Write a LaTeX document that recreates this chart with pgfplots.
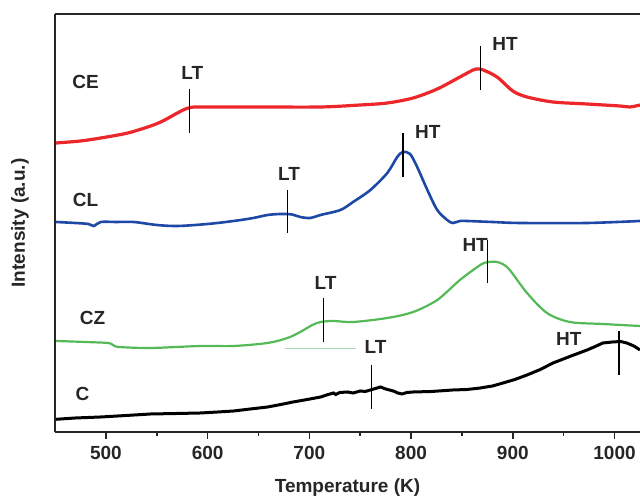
\documentclass[border=0pt]{standalone}
\usepackage{pgfplots}
\pgfplotsset{compat=1.18}
\usepackage{fontspec}
\setmainfont{Liberation Sans}
\definecolor{cered}{RGB}{236,38,42}
\definecolor{clblue}{RGB}{30,72,165}
\definecolor{czgreen}{RGB}{84,186,86}
\definecolor{czlight}{RGB}{170,220,170}
\begin{document}
\begin{tikzpicture}
\begin{axis}[name=ax, scale only axis, width=292.5pt, height=209pt,
  xmin=450, xmax=1025, ymin=0, ymax=418,
  axis x line*=box, axis y line*=left,
  axis line style={line width=1pt, black!85},
  ytick=\empty, xtick={500,600,...,1000}, minor x tick num=1,
  xtick pos=left, tick align=outside,
  major tick length=3.5pt, minor tick length=2pt,
  tick style={line width=0.8pt, black!85},
  /pgf/number format/assume math mode=true,
  /pgf/number format/1000 sep={},
  ticklabel style={font=\fontsize{9.5}{11}\selectfont\bfseries, text=black!85},
  xlabel={Temperature (K)}, ylabel={Intensity (a.u.)},
  label style={font=\fontsize{9.5}{11}\selectfont\bfseries, text=black!85},
  xlabel style={at={(axis description cs:0.5,-0.134)}, anchor=center},
  ylabel style={at={(axis description cs:-0.0598,0.5)}, anchor=center},
]
% CE (red)
\addplot[cered, line width=1.6pt, smooth, tension=0.5] coordinates {
(451,289) (475,291) (495,294) (521.6,299) (544,306) (556,311) (566.7,317) (576,322) (583,324.5) (593,325)
(650,325) (711,325) (750,327) (776.6,329) (802,334) (825.7,343) (848,355) (861,362)
(866,363) (871,362) (884.5,355) (900,341) (914,335) (939.5,330) (973,328)
(1005,326) (1015,325) (1025,327)};
% CL (blue)
\addplot[clblue, line width=1.3pt, smooth, tension=0.5] coordinates {
(451,210) (470,209) (483,208) (488,206) (495,210) (510,210) (527.5,210) (550,207) (570.6,206) (600,208) (625.6,211)
(645,214) (659,217) (671.7,218) (683,217.5) (691,215) (701,214) (711,217) (730.5,222) (743,230)
(760,242) (776.6,259) (786.4,275) (792,280) (799,278) (806,265) (816,242)
(825.7,222) (835.5,212) (841,209) (848,211) (855,211) (880,210) (907,209) (973,209) (1025,211)};
% CZ (green)
\addplot[czgreen, line width=1.1pt, smooth, tension=0.5] coordinates {
(451,91) (480,90) (502,89) (507,87) (513,85) (544,84) (593,86) (625.6,86) (659,89) (678.5,94)
(691,100) (703,107) (711,110) (723.7,111) (743,110) (776.6,114) (802,120) (825.7,132)
(848,152) (868,167) (876,170) (885,170) (890,168) (897,162) (914,139) (933.6,119)
(956,110) (988.5,108) (1025,106)};
\addplot[czlight, line width=0.4pt] coordinates {(676,84) (746,84)};
% C (black)
\addplot[black, line width=1.5pt] coordinates {
(451,12.7) (470,14) (495,15) (520,16.5) (544,18) (570,18.5) (593,19) (610,20) (625.6,21) (642,23) (659,25) (672,27.5) (684,30) (698,32.5) (711,35)
(717,37) (723.7,39) (726,37.5) (730,39.5) (737.4,40) (743,39) (750,41) (755,40.5) (760,42) (765,43.5) (770,45) (775,43) (782.5,41) (787,39) (791,38) (796,39.5) (802,40)
(820,40.5) (841,42) (855,42.5) (868,44) (880,46) (890.4,49) (902,52.5) (914,57) (927,62.5) (939.5,69) (956,75.5) (973,82) (981,85.5) (988.5,89) (998,90)
(1006,90.5) (1012,89) (1019,86) (1025,82)};
% markers
\addplot[black, line width=0.7pt] coordinates {(582.4,299) (582.4,343)};
\addplot[black, line width=0.7pt] coordinates {(868,342) (868,386)};
\addplot[black, line width=0.7pt] coordinates {(678.5,199) (678.5,242)};
\addplot[black, line width=0.7pt] coordinates {(792,255) (792,299)};
\addplot[black, line width=0.7pt] coordinates {(714,90) (714,134)};
\addplot[black, line width=0.7pt] coordinates {(875,149) (875,192)};
\addplot[black, line width=0.7pt] coordinates {(761,23) (761,67)};
\addplot[black, line width=0.7pt] coordinates {(1004.5,57) (1004.5,101)};
% labels
\begin{scope}[every node/.style={font=\fontsize{9.5}{11}\selectfont\bfseries, text=black!85}]
\node at (axis cs:480,350) {CE};
\node at (axis cs:480,232) {CL};
\node at (axis cs:487,114) {CZ};
\node at (axis cs:477,38) {C};
\node at (axis cs:585,359) {LT};
\node[anchor=west] at (axis cs:873,388) {HT};
\node at (axis cs:680,258) {LT};
\node[anchor=west] at (axis cs:797,300) {HT};
\node at (axis cs:716,149) {LT};
\node at (axis cs:863,187) {HT};
\node at (axis cs:765,85) {LT};
\node at (axis cs:955,93) {HT};
\end{scope}
\end{axis}
\pgfresetboundingbox
\useasboundingbox ([xshift=-27.5pt, yshift=-32pt]ax.south west) rectangle ([yshift=7pt]ax.north east);
\end{tikzpicture}
\end{document}
